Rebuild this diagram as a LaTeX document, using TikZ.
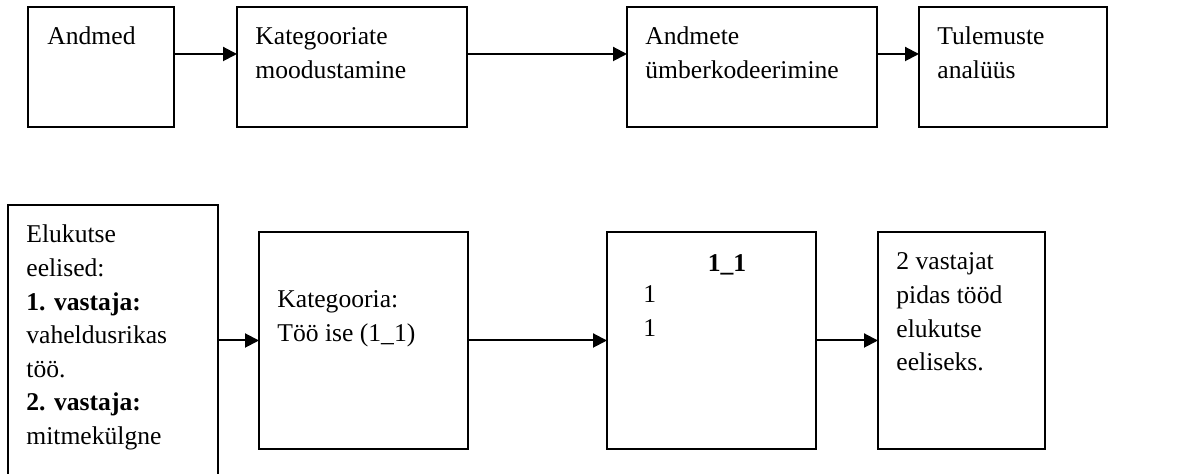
\documentclass[tikz,border=0pt]{standalone}
\usepackage{fontspec}
\setmainfont{Liberation Serif}
\usetikzlibrary{arrows.meta}

\tikzset{
  box/.style={draw, line width=1pt, inner sep=0pt, outer sep=0pt},
  txt/.style={inner sep=0pt, align=left, font=\fontsize{12.8}{16.8}\selectfont},
  flow/.style={line width=1pt, -{Triangle[length=7pt,width=7pt]}}
}

\begin{document}
\begin{tikzpicture}[x=0.5pt,y=0.5pt,yscale=-1,xscale=1]
    \useasboundingbox (0,0) rectangle (1191,474);

    % Box Node (text placed by the baseline of its last line)
    \node[box, minimum width=73pt, minimum height=60pt] (b1) at (101,67) {};
    \node[txt, anchor=base west] (t1) at (47,45) {Andmed};
    % Box Node
    \node[box, minimum width=115pt, minimum height=60pt] (b2) at (352,67) {};
    \node[txt, anchor=base west] (t2) at (255,78.6) {Kategooriate\\moodustamine};
    % Box Node
    \node[box, minimum width=125pt, minimum height=60pt] (b3) at (752,67) {};
    \node[txt, anchor=base west] (t3) at (645,78.6) {Andmete\\ümberkodeerimine};
    % Box Node
    \node[box, minimum width=94pt, minimum height=60pt] (b4) at (1013,67) {};
    \node[txt, anchor=base west] (t4) at (937,78.6) {Tulemuste\\analüüs};

    % Box Node
    \node[box, minimum width=105pt, minimum height=138.5pt] (b5) at (113,343.5) {};
    \node[txt, anchor=base west] (t5) at (26,444.6) {Elukutse\\eelised:\\\textbf{1. vastaja:}\\vaheldusrikas\\töö.\\\textbf{2. vastaja:}\\mitmekülgne};
    % Box Node
    \node[box, minimum width=104.5pt, minimum height=108.5pt] (b6) at (363.5,340.5) {};
    \node[txt, anchor=base west] (t6) at (277,341.6) {Kategooria:\\Töö ise (1\_1)};
    % Box Node
    \node[box, minimum width=104.5pt, minimum height=108.5pt] (b7) at (711.5,340.5) {};
    \node[txt, anchor=base] (t7) at (727,272) {\textbf{1\_1}};
    \node[txt, anchor=base west] (t7a) at (643,336.6) {1\\1};
    % Box Node
    \node[box, minimum width=83.5pt, minimum height=108.5pt] (b8) at (961.5,340.5) {};
    \node[txt, anchor=base west] (t8) at (896,370.8) {2 vastajat\\pidas tööd\\elukutse\\eeliseks.};

    % Connection
    \draw[flow] ([yshift=-6.5pt]b1.east) -- ([yshift=-6.5pt]b2.west);
    % Connection
    \draw[flow] ([yshift=-6.5pt]b2.east) -- ([yshift=-6.5pt]b3.west);
    % Connection
    \draw[flow] ([yshift=-6.5pt]b3.east) -- ([yshift=-6.5pt]b4.west);
    % Connection
    \draw[flow] (b5.east |- b6.west) -- (b6.west);
    % Connection
    \draw[flow] (b6.east) -- (b7.west);
    % Connection
    \draw[flow] (b7.east) -- (b8.west);

\end{tikzpicture}
\end{document}
